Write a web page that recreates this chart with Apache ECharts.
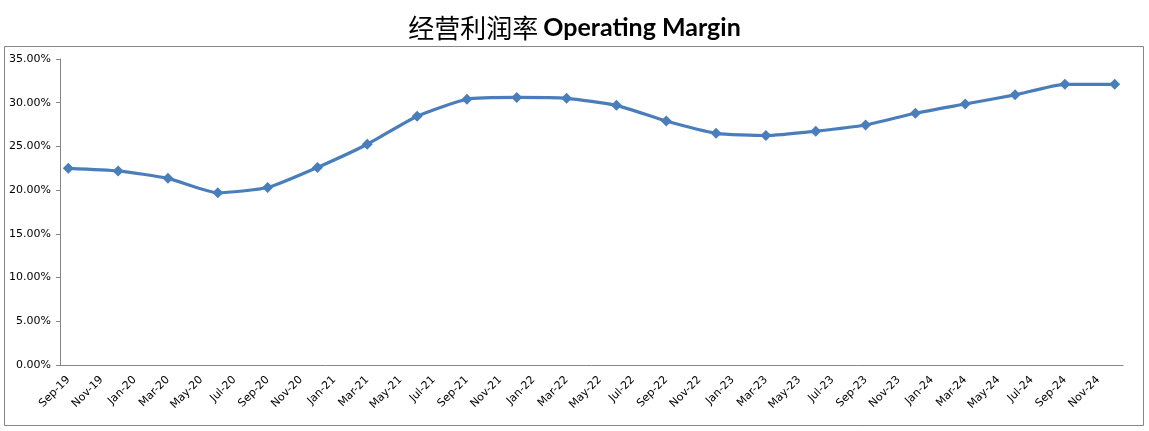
<!DOCTYPE html>
<html>
<head>
<meta charset="utf-8">
<script src="https://cdn.jsdelivr.net/npm/echarts@6/dist/echarts.min.js"></script>
<style>
html,body{margin:0;padding:0;background:#fff;}
#chart{width:1149px;height:431px;}
</style>
</head>
<body>
<div id="chart"></div>
<script>
// Monthly axis categories (Sep-19 .. Dec-24); labels shown every 2 months
const monthNames = ['Jan','Feb','Mar','Apr','May','Jun','Jul','Aug','Sep','Oct','Nov','Dec'];
const startYear = 2019, startMonth = 8, monthCount = 64;
const categories = [];
for (let i = 0; i < monthCount; i++) {
  const m = (startMonth + i) % 12;
  const y = startYear + Math.floor((startMonth + i) / 12);
  categories.push(monthNames[m] + '-' + String(y).slice(2));
}
// Quarterly observation dates
const pointDates = ['Sep-19','Dec-19','Mar-20','Jun-20','Sep-20','Dec-20','Mar-21','Jun-21','Sep-21','Dec-21','Mar-22','Jun-22','Sep-22','Dec-22','Mar-23','Jun-23','Sep-23','Dec-23','Mar-24','Jun-24','Sep-24','Dec-24'];
// Operating margin, %
const margin = [22.5,22.2,21.35,19.7,20.3,22.6,25.25,28.45,30.4,30.6,30.5,29.7,27.9,26.5,26.25,26.75,27.45,28.8,29.85,30.9,32.1,32.1];
const yTicks = { min: 0, max: 35, interval: 5 };

const chart = echarts.init(document.getElementById('chart'));
chart.setOption({
  backgroundColor: '#fff',
  animation: false,
  title: {
    text: '{cn|经营利润率} {en|Operating Margin}',
    left: 'center', top: 10,
    textStyle: {
      rich: {
        cn: { fontFamily: 'Noto Sans CJK SC', fontSize: 26, fontWeight: 'normal', color: '#000' },
        en: { fontFamily: 'Lato', fontSize: 25, fontWeight: 'bold', color: '#000' }
      }
    }
  },
  graphic: [{
    type: 'rect', left: 2, top: 44, silent: true,
    shape: { width: 1139, height: 379 },
    style: { fill: 'none', stroke: '#868686', lineWidth: 1 }
  }],
  grid: { left: 60, right: 26, top: 59, bottom: 66 },
  xAxis: {
    type: 'category',
    data: categories,
    boundaryGap: true,
    axisLine: { lineStyle: { color: '#868686' } },
    axisTick: { interval: 1, alignWithLabel: false, length: 5, lineStyle: { color: '#868686' } },
    axisLabel: { interval: 1, rotate: 45, fontFamily: 'Verdana, DejaVu Sans, sans-serif', fontSize: 11, color: '#000', margin: 13 },
    splitLine: { show: false }
  },
  yAxis: {
    type: 'value',
    min: yTicks.min, max: yTicks.max, interval: yTicks.interval,
    axisLine: { show: true, lineStyle: { color: '#868686' } },
    axisTick: { show: true, length: 4, lineStyle: { color: '#868686' } },
    axisLabel: { fontFamily: 'Verdana, DejaVu Sans, sans-serif', fontSize: 11, color: '#000', margin: 9,
      formatter: v => v.toFixed(2) + '%' },
    splitLine: { show: false }
  },
  series: [{
    type: 'line',
    data: pointDates.map((d, i) => [d, margin[i]]),
    smooth: 0.18,
    symbol: 'diamond',
    symbolSize: 11,
    lineStyle: { color: '#4A7EBB', width: 3.2 },
    itemStyle: { color: '#4A7EBB' }
  }]
});
</script>
</body>
</html>
